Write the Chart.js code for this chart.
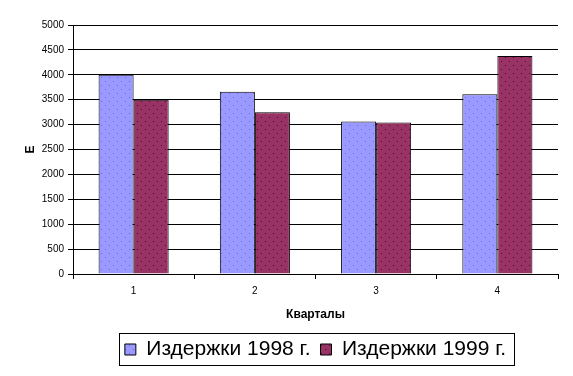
<!DOCTYPE html>
<html>
<head>
<meta charset="utf-8">
<script src="https://cdn.jsdelivr.net/npm/chart.js@4/dist/chart.umd.min.js"></script>
<style>
html,body{margin:0;padding:0;background:#fff;}
#wrap{width:573px;height:376px;position:relative;}
</style>
</head>
<body>
<div id="wrap"><canvas id="c"></canvas></div>
<script>
const categories = ['1', '2', '3', '4'];
const costs1998 = [4000, 3660, 3060, 3610];
const costs1999 = [3500, 3250, 3040, 4380];
const seriesNames = ['Издержки 1998 г.', 'Издержки 1999 г.'];
const yAxisTitle = 'Е';
const xAxisTitle = 'Кварталы';

const FONT = 'Arial, "Liberation Sans", sans-serif';

function makePattern(bg, dot) {
  const t = document.createElement('canvas');
  t.width = 8; t.height = 8;
  const g = t.getContext('2d');
  g.fillStyle = bg; g.fillRect(0, 0, 8, 8);
  g.fillStyle = dot;
  g.fillRect(1, 1, 1, 1);
  g.fillRect(5, 5, 1, 1);
  return g.createPattern(t, 'repeat');
}
const ctx = document.getElementById('c').getContext('2d');
const blue = makePattern('#9999FF', '#6666EE');
const maroon = makePattern('#993366', '#4d0a2a');

const legendBorder = {
  id: 'legendBorder',
  afterDraw(chart) {
    const lg = chart.legend;
    if (!lg || !lg.legendHitBoxes || !lg.legendHitBoxes.length) return;
    const hb = lg.legendHitBoxes;
    let minX = Infinity, maxX = -Infinity, minY = Infinity, maxY = -Infinity;
    hb.forEach(b => {
      minX = Math.min(minX, b.left); maxX = Math.max(maxX, b.left + b.width);
      minY = Math.min(minY, b.top); maxY = Math.max(maxY, b.top + b.height);
    });
    const c = chart.ctx;
    c.save();
    c.strokeStyle = '#000';
    c.lineWidth = 1;
    c.strokeRect(Math.round(minX - 6) + 0.5, Math.round(minY - 6) + 0.5,
                 Math.round(maxX - minX + 14), Math.round(maxY - minY + 11));
    c.restore();
  }
};

new Chart(ctx, {
  type: 'bar',
  data: {
    labels: categories,
    datasets: [
      { label: seriesNames[0], data: costs1998, backgroundColor: blue, borderColor: '#000', borderWidth: 1 },
      { label: seriesNames[1], data: costs1999, backgroundColor: maroon, borderColor: '#000', borderWidth: 1 }
    ]
  },
  options: {
    responsive: true,
    maintainAspectRatio: false,
    animation: false,
    layout: { padding: { top: 25, right: 15, left: 0, bottom: 6 } },
    datasets: { bar: { categoryPercentage: 0.578, barPercentage: 1.0 } },
    plugins: {
      legend: {
        position: 'bottom',
        fullSize: false,
        labels: {
          font: { family: FONT, size: 21 },
          color: '#000',
          boxWidth: 11,
          boxHeight: 11,
          padding: 10
        }
      },
      tooltip: { enabled: false }
    },
    scales: {
      x: {
        offset: true,
        grid: { display: true, drawOnChartArea: false, offset: true, tickLength: 5, color: '#000', tickColor: '#000' },
        border: { display: true, color: '#000', width: 1 },
        ticks: { font: { family: FONT, size: 10 }, color: '#000', padding: 6, maxRotation: 0 },
        title: { display: true, text: xAxisTitle, font: { family: FONT, size: 12, weight: 'bold' }, color: '#000', padding: { top: 8, bottom: 7 } },
        afterFit(s) { s.height = 55; }
      },
      y: {
        min: 0, max: 5000,
        ticks: { stepSize: 500, font: { family: FONT, size: 10 }, color: '#000', padding: 4,
                 callback: v => String(v) },
        grid: { color: '#000', lineWidth: 1, tickLength: 5, tickColor: '#000' },
        border: { display: true, color: '#000', width: 1 },
        title: { display: true, text: yAxisTitle, font: { family: FONT, size: 12, weight: 'bold' }, color: '#000', padding: { top: 23, bottom: 0 } },
        afterFit(s) { s.width = 73; }
      }
    }
  },
  plugins: [legendBorder]
});
</script>
</body>
</html>
